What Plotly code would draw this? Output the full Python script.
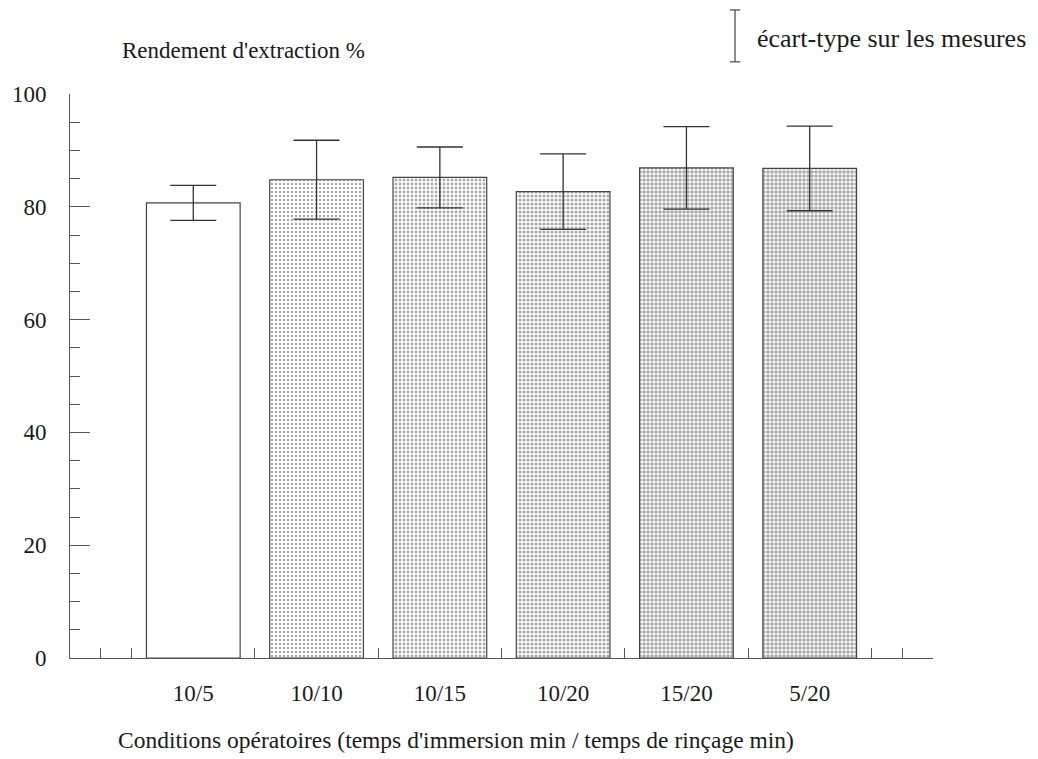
import plotly.graph_objects as go

# conditions (immersion min / rinsage min)
conditions = ["10/5", "10/10", "10/15", "10/20", "15/20", "5/20"]
rendement = [80.7, 84.8, 85.2, 82.7, 86.9, 86.8]
ecart_type = [3.1, 7.0, 5.4, 6.7, 7.3, 7.5]
# motif de remplissage (densite des points)
solidite = [0.0, 0.30, 0.40, 0.50, 0.62, 0.64]

x_pos = list(range(1, len(conditions) + 1))
font_serif = "Liberation Serif, Times New Roman, serif"

fig = go.Figure()

fig.add_trace(go.Bar(
    x=x_pos, y=rendement, width=0.76,
    marker=dict(
        color="white",
        line=dict(color="#444444", width=1.2),
        pattern=dict(shape=".", size=4, solidity=solidite,
                     fgcolor="#555555", bgcolor="white"),
    ),
    error_y=dict(type="data", array=ecart_type, visible=True,
                 color="#333333", thickness=1.3, width=23),
    showlegend=False,
))

fig.update_xaxes(
    range=[0, 7], tickvals=x_pos + [7], ticktext=conditions + [""],
    ticks="inside", ticklen=22, tickcolor="#555555", tickwidth=1,
    minor=dict(dtick=0.25, tick0=0, ticks="inside", ticklen=10,
               tickcolor="#555555", tickwidth=1),
    showline=True, linecolor="#555555", linewidth=1,
    showgrid=False, zeroline=False, layer="below traces",
    ticklabelstandoff=14, automargin=False,
    tickfont=dict(family=font_serif, size=23, color="#1a1a1a"),
)
fig.update_yaxes(
    range=[0, 100], dtick=20, tick0=0,
    ticks="inside", ticklen=20, tickcolor="#555555", tickwidth=1,
    minor=dict(dtick=5, ticks="inside", ticklen=10, tickcolor="#555555", tickwidth=1),
    showline=True, linecolor="#555555", linewidth=1,
    showgrid=False, zeroline=False, layer="below traces",
    ticklabelstandoff=18, automargin=False,
    tickfont=dict(family=font_serif, size=23, color="#1a1a1a"),
)

# titres des axes
fig.add_annotation(text="Conditions opératoires (temps d'immersion min / temps de rinçage min)",
                   xref="paper", yref="paper", x=0.447, y=-0.145,
                   xanchor="center", yanchor="middle", showarrow=False,
                   font=dict(family=font_serif, size=23.5, color="#1a1a1a"))
fig.add_annotation(text="Rendement d'extraction %", xref="paper", yref="paper",
                   x=0.058, y=1.078, xanchor="left", yanchor="middle", showarrow=False,
                   font=dict(family=font_serif, size=23, color="#1a1a1a"))

# legende de l'ecart-type
fig.add_shape(type="line", xref="paper", yref="paper", x0=0.7706, x1=0.7706, y0=1.057, y1=1.149,
              line=dict(color="#444444", width=1.2))
fig.add_shape(type="line", xref="paper", yref="paper", x0=0.7645, x1=0.7767, y0=1.149, y1=1.149,
              line=dict(color="#444444", width=1.2))
fig.add_shape(type="line", xref="paper", yref="paper", x0=0.7645, x1=0.7767, y0=1.057, y1=1.057,
              line=dict(color="#444444", width=1.2))
fig.add_annotation(text="écart-type sur les mesures", xref="paper", yref="paper",
                   x=0.794, y=1.099, xanchor="left", yanchor="middle", showarrow=False,
                   font=dict(family=font_serif, size=26, color="#1a1a1a"))

fig.update_layout(
    width=1038, height=759,
    margin=dict(l=62, r=113, t=86, b=109),
    plot_bgcolor="white", paper_bgcolor="white",
    bargap=0.24,
)

fig.write_html("out.html")
